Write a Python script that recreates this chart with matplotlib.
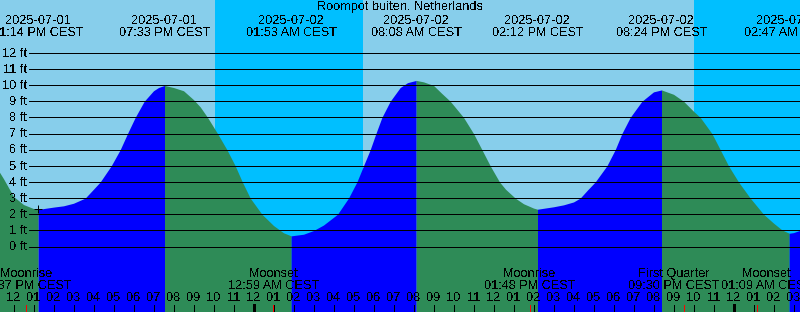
import matplotlib
matplotlib.use("Agg")
import matplotlib.pyplot as plt
import matplotlib.transforms as mtransforms
import numpy as np

# ---------------- data ----------------
title = "Roompot buiten, Netherlands"

# hours since 2025-07-01 00:00 CEST, tide height in ft
tide_hours = [11.0, 11.5, 12.0, 12.5, 13.0, 13.233,
              14.0, 14.5, 15.0, 15.585, 16.0, 16.335, 16.885, 17.335, 17.70, 18.085, 18.535, 19.0, 19.25, 19.55,
              20.0, 20.5, 21.0, 21.335, 21.7, 22.2, 22.67, 23.085, 23.44, 23.835, 24.42, 25.0, 25.5, 25.883,
              26.5, 27.0, 27.5, 28.2, 28.75, 29.17, 29.5, 29.835, 30.12, 30.42, 30.835, 31.335, 31.7, 32.133,
              32.5, 33.0, 33.4, 33.835, 34.5, 35.0, 35.42, 35.835, 36.3, 36.6, 37.085, 37.5, 38.0, 38.2,
              39.0, 39.5, 40.0, 40.335, 40.7, 41.085, 41.67, 42.085, 42.42, 42.835, 43.42, 44.0, 44.4,
              45.0, 45.5, 46.0, 46.335, 46.92, 47.335, 47.75, 48.25, 48.835, 49.5, 50.0, 50.42, 50.783,
              51.0, 52.0]
tide_ft = [5.2, 4.2, 3.1, 2.6, 2.35, 2.3,
           2.44, 2.52, 2.68, 3.0, 3.55, 4.0, 5.0, 6.0, 7.0, 8.0, 9.0, 9.65, 9.85, 9.98,
           9.85, 9.65, 9.1, 8.65, 8.0, 7.0, 6.0, 5.0, 4.0, 3.0, 2.0, 1.3, 0.85, 0.66,
           0.76, 0.99, 1.33, 2.0, 3.0, 4.0, 5.0, 6.0, 7.0, 8.0, 9.0, 9.85, 10.15, 10.29,
           10.2, 9.98, 9.5, 9.0, 8.0, 7.0, 6.0, 5.0, 4.0, 3.55, 3.0, 2.65, 2.38, 2.31,
           2.46, 2.58, 2.76, 3.0, 3.5, 4.0, 5.0, 6.0, 7.0, 8.0, 9.0, 9.58, 9.7,
           9.43, 9.0, 8.38, 8.0, 7.0, 6.0, 5.0, 4.0, 3.0, 2.0, 1.45, 1.03, 0.82,
           0.86, 1.3]

extreme_hours = [13 + 14/60, 19 + 33/60, 25 + 53/60, 32 + 8/60, 38 + 12/60, 44 + 24/60, 50 + 47/60]
extreme_ft = [2.3, 9.98, 0.66, 10.29, 2.31, 9.7, 0.82]
extreme_dates = ["2025-07-01", "2025-07-01", "2025-07-02", "2025-07-02",
                 "2025-07-02", "2025-07-02", "2025-07-03"]
extreme_times = ["01:14 PM CEST", "07:33 PM CEST", "01:53 AM CEST", "08:08 AM CEST",
                 "02:12 PM CEST", "08:24 PM CEST", "02:47 AM CEST"]

moon_hours = [12 + 37/60, 24 + 59/60, 37 + 48/60, 45 + 30/60, 49 + 9/60]
moon_names = ["Moonrise", "Moonset", "Moonrise", "First Quarter", "Moonset"]
moon_times = ["12:37 PM CEST", "12:59 AM CEST", "01:48 PM CEST", "09:30 PM CEST", "01:09 AM CEST"]

sunset_hours = [22 + 4/60, 46 + 2/60]
sunrise_hours = [29 + 28/60]

hour_ticks = list(range(12, 52))
hour_labels = ["12", "01", "02", "03", "04", "05", "06", "07", "08", "09", "10", "11",
               "12", "01", "02", "03", "04", "05", "06", "07", "08", "09", "10", "11",
               "12", "01", "02", "03", "04", "05", "06", "07", "08", "09", "10", "11",
               "12", "01", "02", "03"]
midnight_hours = [24, 48]

ft_levels = list(range(0, 13))
ft_labels = [f"{v} ft" for v in ft_levels]

# ---------------- styling / layout ----------------
W, H = 800, 312
DAY = "#87CEEB"
NIGHT = "#00BFFF"
RISE = "#0000FF"
FALL = "#2E8B57"
FONT = "Liberation Sans"
FS = 9.2
PX = 0.72  # one pixel in points at 100 dpi
moon_label_dx_px = [0, 0, 0, -10, 10]   # labels nudged apart to avoid overlap

px_per_hour = 20.0
px_per_ft = 16.14
t0 = 12 - 13.5 / px_per_hour
t1 = t0 + W / px_per_hour
y0 = -(H - 246.5) / px_per_ft
y1 = 246.5 / px_per_ft

plt.rcParams["font.family"] = [FONT, "DejaVu Sans"]
plt.rcParams["text.antialiased"] = False

fig = plt.figure(figsize=(W / 100, H / 100), dpi=100)
ax = fig.add_axes([0, 0, 1, 1])
ax.set_xlim(t0, t1)
ax.set_ylim(y0, y1)
ax.axis("off")

def yfrac(ypx):
    return 1 - ypx / H

# background: day / night
ax.axvspan(t0, t1, color=DAY, zorder=0, lw=0)
nights = [(sunset_hours[0], sunrise_hours[0]), (sunset_hours[1], t1 + 5)]
for a, b in nights:
    ax.axvspan(a, b, color=NIGHT, zorder=0.5, lw=0, antialiased=False)

# tide fill: falling (green) before each low, rising (blue) before each high
th = np.array(tide_hours)
tf = np.array(tide_ft)
bounds = [th[0]] + list(extreme_hours) + [th[-1]]
tol = 0.01
for i in range(len(bounds) - 1):
    a, b = bounds[i], bounds[i + 1]
    m = (th >= a - tol) & (th <= b + tol)
    if i < len(extreme_hours):
        nxt = extreme_ft[i]
        prv = extreme_ft[i - 1] if i > 0 else extreme_ft[i + 1]
        rising = nxt > prv
    else:
        rising = extreme_ft[-1] < extreme_ft[-2]
    ax.fill_between(th[m], tf[m], y0, color=RISE if rising else FALL,
                    lw=0, antialiased=False, zorder=1)

# horizontal lines
for v in ft_levels:
    ax.axhline(v, xmin=29 / W, xmax=1, color="black", lw=PX, zorder=3, antialiased=False)

# ft labels
lab_trans = mtransforms.offset_copy(ax.transData, fig=fig, x=0, y=-3.7, units="dots")
lab_blend = mtransforms.blended_transform_factory(ax.transAxes, lab_trans)
for v, s in zip(ft_levels, ft_labels):
    ax.text(27 / W, v, s, transform=lab_blend, ha="right", va="baseline",
            fontsize=FS, color="black", zorder=5)

# marker at first low
ax.plot([extreme_hours[0]], [extreme_ft[0]], marker="+", color="black",
        markersize=6, mew=PX, zorder=4, antialiased=False)

# title
ax.text(0.5, yfrac(10), title, transform=ax.transAxes, ha="center", va="baseline",
        fontsize=FS, color="black", zorder=5)

tb = mtransforms.blended_transform_factory(ax.transData, ax.transAxes)
for t, d, s in zip(extreme_hours, extreme_dates, extreme_times):
    ax.text(t, yfrac(24), d, transform=tb, ha="center", va="baseline", fontsize=FS, zorder=5)
    ax.text(t, yfrac(36), s, transform=tb, ha="center", va="baseline", fontsize=FS, zorder=5)

# moon events
for t, n, s, dx in zip(moon_hours, moon_names, moon_times, moon_label_dx_px):
    tl = t + dx / px_per_hour
    ax.text(tl, yfrac(277.3), n, transform=tb, ha="center", va="baseline", fontsize=FS, zorder=5)
    ax.text(tl, yfrac(289.3), s, transform=tb, ha="center", va="baseline", fontsize=FS, zorder=5)
    ax.axvline(t, ymin=0, ymax=7.5 / H, color="red", lw=PX, zorder=4, antialiased=False)

# hour ticks
for h, s in zip(hour_ticks, hour_labels):
    ax.text(h, yfrac(300.7), s, transform=tb, ha="center", va="baseline", fontsize=FS, zorder=5)
    lw = 3 * PX if h in midnight_hours else PX
    ax.axvline(h, ymin=0, ymax=7.5 / H, color="black", lw=lw, zorder=4, antialiased=False)

fig.savefig("out.png", dpi=100)
